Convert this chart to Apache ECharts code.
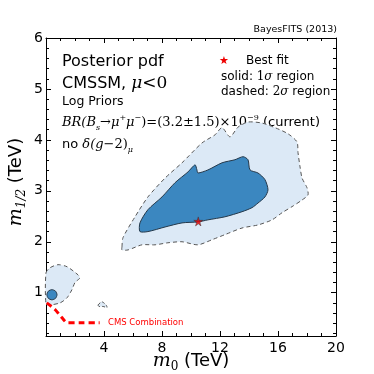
<!DOCTYPE html>
<html>
<head>
<meta charset="utf-8">
<script src="https://cdn.jsdelivr.net/npm/echarts/dist/echarts.min.js"></script>
<style>
  html, body { margin: 0; padding: 0; background: #fff; }
  #posterior { width: 374px; height: 374px; }
</style>
</head>
<body>
<div id="posterior"></div>
<script>
// tick labels
var xTicks = [0, 4, 8, 12, 16, 20];
var yTicks = [1, 2, 3, 4, 5, 6];
var yMinorTicks = [0.2, 0.4, 0.6, 0.8, 1.2, 1.4, 1.6, 1.8, 2.2, 2.4, 2.6, 2.8,
	3.2, 3.4, 3.6, 3.8, 4.2, 4.4, 4.6, 4.8, 5.2, 5.4, 5.6, 5.8];

// 2 sigma region (m0, m1/2) in TeV
var outer2sigma = [
	[5.24, 1.90], [5.31, 2.08], [6.14, 2.49], [7.03, 2.88], [8.21, 3.25], [9.38, 3.55],
	[10.76, 3.94], [11.66, 4.10], [12.14, 4.24], [12.69, 4.06], [13.24, 4.25], [13.93, 4.35],
	[14.90, 4.33], [15.79, 4.24], [16.69, 4.12], [17.31, 3.96], [17.38, 3.75], [17.52, 3.47],
	[17.66, 3.25], [18.00, 3.06], [18.07, 2.92], [17.66, 2.82], [16.97, 2.69], [16.28, 2.57],
	[15.59, 2.43], [14.62, 2.33], [13.52, 2.27], [12.34, 2.14], [11.45, 2.04], [10.48, 1.94],
	[9.38, 2.00], [8.41, 1.98], [7.52, 1.94], [6.62, 1.94], [5.66, 1.84], [5.24, 1.84]
];
var island2sigma = [
	[0.00, 1.39], [0.28, 1.49], [0.83, 1.55], [1.45, 1.51], [2.21, 1.35], [2.34, 1.29],
	[2.00, 1.20], [1.79, 1.06], [1.45, 0.90], [0.97, 0.80], [0.28, 0.76], [0.00, 0.78]
];
var blob2sigma = [
	[3.59, 0.76], [3.86, 0.82], [4.14, 0.76], [4.21, 0.71], [3.93, 0.73], [3.66, 0.73]
];

// 1 sigma region
var inner1sigma = [
	[6.48, 2.20], [6.48, 2.37], [7.03, 2.63], [8.00, 2.88], [8.90, 3.16], [9.79, 3.37],
	[10.28, 3.51], [10.41, 3.41], [10.48, 3.35], [11.17, 3.41], [12.14, 3.55], [13.03, 3.61],
	[13.59, 3.67], [13.93, 3.61], [14.07, 3.41], [14.62, 3.35], [15.10, 3.22], [15.31, 3.02],
	[15.10, 2.88], [14.62, 2.76], [14.21, 2.67], [13.52, 2.59], [12.34, 2.49], [11.17, 2.43],
	[10.48, 2.39], [9.38, 2.37], [8.21, 2.29], [7.03, 2.20]
];
var island1sigma = [
	[0.76, 0.96], [0.66, 1.03], [0.41, 1.06], [0.16, 1.03], [0.06, 0.96],
	[0.16, 0.89], [0.41, 0.86], [0.66, 0.89]
];

var bestFit = [[10.5, 2.4]];
var cmsLine = [[0.05, 0.80], [0.62, 0.67], [1.10, 0.51], [1.50, 0.41], [2.35, 0.41], [3.70, 0.41]];

var lightBlue = '#dce9f6';
var darkBlue = '#3b87c0';
var serif = '"DejaVu Serif", serif';
var sans = '"DejaVu Sans", sans-serif';

function region(points, fill, stroke, dash) {
	return {
		type: 'custom',
		xAxisIndex: 0,
		yAxisIndex: 0,
		data: points,
		silent: true,
		renderItem: function (params, api) {
			if (params.dataIndex !== 0) return;
			var pts = points.map(function (p) { return api.coord(p); });
			return {
				type: 'polygon',
				shape: { points: pts, smooth: 0.25 },
				style: { fill: fill, stroke: stroke, lineWidth: 1, lineDash: dash }
			};
		}
	};
}

function axisBase(extra) {
	var a = {
		type: 'value',
		axisLine: { show: true, onZero: false, lineStyle: { color: '#000', width: 1 } },
		splitLine: { show: false },
		axisTick: { show: true, inside: true, length: 5, lineStyle: { color: '#000' } },
		axisLabel: { color: '#000', fontSize: 14, fontFamily: sans }
	};
	for (var k in extra) a[k] = extra[k];
	return a;
}

var starPath = 'path://M50,0 L61,35 L98,35 L68,57 L79,91 L50,70 L21,91 L32,57 L2,35 L39,35 Z';

var option = {
	animation: false,
	grid: [
		{ left: 46, right: 38, top: 38, bottom: 38 },
		{ left: 46, right: 38, top: 38, bottom: 38 }
	],
	xAxis: [
		axisBase({ gridIndex: 0, position: 'bottom', min: 0, max: 20, interval: 4,
			minorTick: { show: true, splitNumber: 4, length: 3, lineStyle: { color: '#000' } },
			axisLabel: { color: '#000', fontSize: 14, fontFamily: sans, margin: 5, showMinLabel: false } }),
		axisBase({ gridIndex: 0, position: 'top', min: 0, max: 20, interval: 4,
			minorTick: { show: true, splitNumber: 4, length: 3, lineStyle: { color: '#000' } },
			axisLabel: { show: false } }),
		{ type: 'value', gridIndex: 1, min: 0, max: 20, show: false }
	],
	yAxis: [
		axisBase({ gridIndex: 0, position: 'left', min: 0.15, max: 6,
			axisTick: { show: true, inside: true, length: 5, customValues: yTicks, lineStyle: { color: '#000' } },
			axisLabel: { color: '#000', fontSize: 14, fontFamily: sans, margin: 3, customValues: yTicks } }),
		axisBase({ gridIndex: 0, position: 'right', min: 0.15, max: 6,
			axisTick: { show: true, inside: true, length: 5, customValues: yTicks, lineStyle: { color: '#000' } },
			axisLabel: { show: false } }),
		axisBase({ gridIndex: 1, position: 'left', min: 0.15, max: 6,
			axisLine: { show: false },
			axisTick: { show: true, inside: true, length: 3, customValues: yMinorTicks, lineStyle: { color: '#000' } },
			axisLabel: { show: false } }),
		axisBase({ gridIndex: 1, position: 'right', min: 0.15, max: 6,
			axisLine: { show: false },
			axisTick: { show: true, inside: true, length: 3, customValues: yMinorTicks, lineStyle: { color: '#000' } },
			axisLabel: { show: false } })
	],
	series: [
		region(outer2sigma, lightBlue, '#555', [4, 3]),
		region(island2sigma, lightBlue, '#555', [4, 3]),
		region(blob2sigma, lightBlue, '#555', [3, 2]),
		region(inner1sigma, darkBlue, '#24384a', null),
		region(island1sigma, darkBlue, '#24384a', null),
		{
			type: 'line',
			data: cmsLine,
			symbol: 'none',
			smooth: 0.3,
			lineStyle: { color: '#ff0000', width: 3, type: [6, 4] },
			silent: true
		},
		{
			type: 'scatter',
			data: bestFit,
			symbol: starPath,
			symbolSize: 9,
			itemStyle: { color: '#ee0000', borderColor: '#333', borderWidth: 0.6 },
			silent: true
		}
	],
	graphic: [
		{ type: 'text', x: 337, y: 30, style: { text: 'BayesFITS (2013)', font: '9.5px ' + sans, fill: '#000', align: 'right', verticalAlign: 'middle' } },
		{ type: 'text', x: 62, y: 62, style: { text: 'Posterior pdf', font: '16px ' + sans, fill: '#000', verticalAlign: 'middle' } },
		{ type: 'text', x: 62, y: 84, style: {
			text: '{a|CMSSM, }{m|μ}{r|<0}', verticalAlign: 'middle',
			rich: {
				a: { font: '16px ' + sans, fill: '#000' },
				m: { font: 'italic 17px ' + serif, fill: '#000' },
				r: { font: '17px ' + serif, fill: '#000' }
			}
		} },
		{ type: 'text', x: 62, y: 102, style: { text: 'Log Priors', font: '12.5px ' + sans, fill: '#000', verticalAlign: 'middle' } },
		{ type: 'text', x: 62, y: 123, style: {
			text: '{i|BR(B}{sub|s}{r|→}{i|μ}{sup|+}{i|μ}{sup|−}{r|)=(3.2±1.5)×10}{sup|−9}{s| (current)}',
			verticalAlign: 'middle',
			rich: {
				i: { font: 'italic 13px ' + serif, fill: '#000', lineHeight: 18 },
				r: { font: '13px ' + serif, fill: '#000', lineHeight: 18 },
				sub: { font: 'italic 8px ' + serif, fill: '#000', lineHeight: 9, verticalAlign: 'bottom' },
				sup: { font: '8px ' + serif, fill: '#000', lineHeight: 11, verticalAlign: 'top' },
				s: { font: '13px ' + sans, fill: '#000', lineHeight: 18 }
			}
		} },
		{ type: 'text', x: 62, y: 145, style: {
			text: '{s|no }{i|δ(g}{r|−2)}{sub|μ}',
			verticalAlign: 'middle',
			rich: {
				s: { font: '13px ' + sans, fill: '#000', lineHeight: 18 },
				i: { font: 'italic 13px ' + serif, fill: '#000', lineHeight: 18 },
				r: { font: '13px ' + serif, fill: '#000', lineHeight: 18 },
				sub: { font: 'italic 8px ' + serif, fill: '#000', lineHeight: 9, verticalAlign: 'bottom' }
			}
		} },
		{ type: 'text', x: 224, y: 61, style: { text: '★', font: '11px ' + sans, fill: '#ee0000', align: 'center', verticalAlign: 'middle' } },
		{ type: 'text', x: 246, y: 61, style: { text: 'Best fit', font: '12px ' + sans, fill: '#000', verticalAlign: 'middle' } },
		{ type: 'text', x: 221, y: 77, style: {
			text: '{s|solid: }{r|1}{i|σ}{s| region}', verticalAlign: 'middle',
			rich: {
				s: { font: '12px ' + sans, fill: '#000' },
				r: { font: '12px ' + serif, fill: '#000' },
				i: { font: 'italic 12px ' + serif, fill: '#000' }
			}
		} },
		{ type: 'text', x: 221, y: 92, style: {
			text: '{s|dashed: }{r|2}{i|σ}{s| region}', verticalAlign: 'middle',
			rich: {
				s: { font: '12px ' + sans, fill: '#000' },
				r: { font: '12px ' + serif, fill: '#000' },
				i: { font: 'italic 12px ' + serif, fill: '#000' }
			}
		} },
		{ type: 'text', x: 108, y: 323, style: { text: 'CMS Combination', font: '8.5px ' + sans, fill: '#ff0000', verticalAlign: 'middle' } },
		{ type: 'text', x: 191, y: 361, style: {
			text: '{i|m}{sub|0}{s| (TeV)}', align: 'center', verticalAlign: 'middle',
			rich: {
				i: { font: 'italic 19px ' + serif, fill: '#000', lineHeight: 24 },
				sub: { font: '12px ' + serif, fill: '#000', lineHeight: 12, verticalAlign: 'bottom' },
				s: { font: '18px ' + sans, fill: '#000', lineHeight: 24 }
			}
		} },
		{ type: 'text', x: 16, y: 182, rotation: Math.PI / 2, style: {
			text: '{i|m}{sub|1/2}{s| (TeV)}', align: 'center', verticalAlign: 'middle',
			rich: {
				i: { font: 'italic 19px ' + serif, fill: '#000', lineHeight: 24 },
				sub: { font: 'italic 12px ' + serif, fill: '#000', lineHeight: 12, verticalAlign: 'bottom' },
				s: { font: '18px ' + sans, fill: '#000', lineHeight: 24 }
			}
		} }
	]
};

var chart = echarts.init(document.getElementById('posterior'));
chart.setOption(option);
window.addEventListener('resize', function () {
	chart.resize();
});
</script>
</body>
</html>
